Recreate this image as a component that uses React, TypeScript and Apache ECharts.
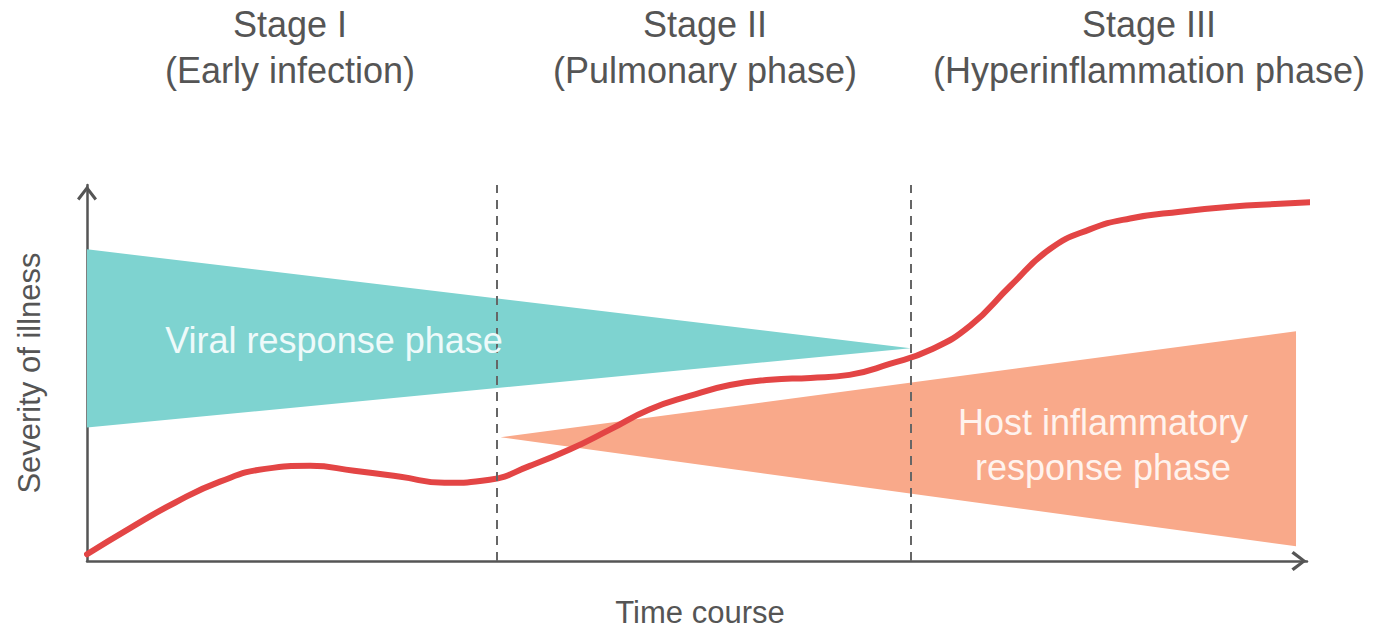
import React, { useEffect, useRef } from "react";
import * as echarts from "echarts";

// Stage titles and their texts
const stageTitles = ["Stage I\n(Early infection)", "Stage II\n(Pulmonary phase)", "Stage III\n(Hyperinflammation phase)"];
// Stage boundaries on the time axis (0–100)
const stageBoundaries = [33.6, 67.5];

// Viral response phase triangle (time, severity)
const viralTriangle = [
  [0, 82.9],
  [0, 35.5],
  [67.5, 56.6],
];
// Host inflammatory response phase triangle
const hostTriangle = [
  [33.9, 32.9],
  [99.1, 61.1],
  [99.1, 3.9],
];

// Severity of illness curve
const curveTime = [0, 3.5, 7.2, 10.9, 14.6, 18.3, 21.9, 25.7, 29.3, 33.0, 36.3, 39.6, 42.9, 46.1, 49.4, 52.7, 56.0, 59.3, 62.5, 65.8, 69.1, 72.4, 75.7, 78.9, 82.2, 85.5, 89.6, 93.7, 97.8, 100.7];
const curveSeverity = [1.8, 8.7, 15.5, 21.1, 24.5, 25.3, 24.0, 22.4, 20.8, 21.6, 25.3, 29.7, 35.0, 40.3, 43.9, 46.8, 48.2, 48.7, 49.5, 52.4, 56.1, 62.6, 73.2, 82.9, 88.2, 91.1, 92.9, 94.2, 95.0, 95.5];

const FONT = "'Liberation Sans', Arial, Helvetica, sans-serif";
const ARROW = "path://M10,0 L20,13 L17.6,15.2 L10,5 L2.4,15.2 L0,13 Z";

export default function App() {
  const ref = useRef<HTMLDivElement>(null);

  useEffect(() => {
    if (!ref.current) return;
    const chart = echarts.init(ref.current, null, { renderer: "svg" });

    const axisCommon = {
      type: "value" as const,
      min: 0,
      max: 100,
      axisTick: { show: false },
      axisLabel: { show: false },
      splitLine: { show: false },
      nameLocation: "middle" as const,
      nameTextStyle: { fontSize: 31, color: "#555", fontFamily: FONT },
      axisLine: {
        show: true,
        onZero: false,
        symbol: ["none", ARROW],
        symbolSize: [20, 16],
        symbolOffset: [0, -8],
        lineStyle: { color: "#555", width: 2.5 },
      },
    };

    const triangle = (verts: number[][], fill: string) => ({
      type: "custom" as const,
      coordinateSystem: "cartesian2d",
      z: 1,
      silent: true,
      data: [0],
      renderItem: (_params: any, api: any) => ({
        type: "polygon",
        shape: { points: verts.map((p) => api.coord(p)) },
        style: { fill },
      }),
    });

    const titleX = [290, 705, 1149];

    chart.setOption({
      animation: false,
      grid: { left: 87, right: 66, top: 185, bottom: 63 },
      xAxis: { ...axisCommon, name: "Time course", nameGap: 36, nameTextStyle: { ...axisCommon.nameTextStyle, padding: [0, 0, 0, 6] } },
      yAxis: { ...axisCommon, name: "Severity of illness", nameGap: 42 },
      series: [
        triangle(viralTriangle, "#7ed3d0"),
        triangle(hostTriangle, "#f9a98a"),
        {
          type: "line",
          z: 3,
          clip: false,
          smooth: 0.5,
          showSymbol: false,
          symbol: "none",
          lineStyle: { color: "#e34545", width: 6, cap: "round" },
          data: curveTime.map((t, i) => [t, curveSeverity[i]]),
          markLine: {
            silent: true,
            symbol: "none",
            label: { show: false },
            lineStyle: { type: [9, 7], color: "#666", width: 2 },
            data: stageBoundaries.map((x) => [{ coord: [x, 0] }, { coord: [x, 100] }]),
          },
        },
      ],
      graphic: [
        ...stageTitles.map((t, i) => ({
          type: "text",
          x: titleX[i],
          y: 47,
          style: {
            text: t,
            font: `36px ${FONT}`,
            fill: "#555",
            textAlign: "center",
            textVerticalAlign: "middle",
            align: "center",
            verticalAlign: "middle",
            lineHeight: 46,
          },
        })),
        {
          type: "text",
          x: 334,
          y: 340,
          z: 10,
          style: {
            text: "Viral response phase",
            font: `36px ${FONT}`,
            fill: "#eefafa",
            textAlign: "center",
            textVerticalAlign: "middle",
            align: "center",
            verticalAlign: "middle",
          },
        },
        {
          type: "text",
          x: 1103,
          y: 445,
          z: 10,
          style: {
            text: "Host inflammatory\nresponse phase",
            font: `36px ${FONT}`,
            fill: "#fff3ee",
            textAlign: "center",
            textVerticalAlign: "middle",
            align: "center",
            verticalAlign: "middle",
            lineHeight: 45,
          },
        },
      ],
    });

    return () => chart.dispose();
  }, []);

  return (
    <div
      ref={ref}
      style={{ position: "absolute", left: 0, top: 0, width: 1373, height: 633, background: "#fff" }}
    />
  );
}
